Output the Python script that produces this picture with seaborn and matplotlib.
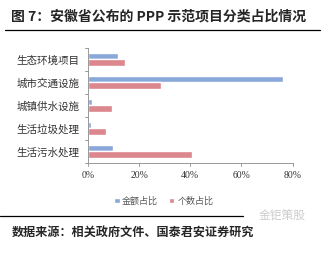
import numpy as np
import pandas as pd
import matplotlib
matplotlib.use("Agg")
import matplotlib.pyplot as plt
import seaborn as sns

sns.set_theme(style="white")
plt.rcParams['font.family'] = ['Noto Sans CJK SC', 'DejaVu Sans']

categories = ["生态环境项目", "城市交通设施", "城镇供水设施", "生活垃圾处理", "生活污水处理"]
amount_share = [11.6, 76.3, 1.6, 1.2, 9.7]   # 金额占比 (%)
count_share = [14.5, 28.6, 9.4, 7.1, 40.6]   # 个数占比 (%)
series_names = ["金额占比", "个数占比"]
xticks = [0, 20, 40, 60, 80]

df = pd.DataFrame({
    "cat": categories * 2,
    "val": amount_share + count_share,
    "series": [series_names[0]] * 5 + [series_names[1]] * 5,
})

fig = plt.figure(figsize=(3.28, 2.59), dpi=100)
ax = fig.add_axes([0.268, 0.371, 0.624, 0.445])

sns.barplot(data=df, y="cat", x="val", hue="series", order=categories,
            hue_order=series_names, palette=["#8AA7D9", "#DC868D"],
            width=0.55, orient="h", ax=ax, saturation=1)

ax.set_xlim(0, 80)
ax.set_ylim(4.5, -0.5)
ax.set_xticks(xticks)
ax.set_xticklabels([f"{t}%" for t in xticks], fontsize=7, color="#333333",
                   family=["Liberation Serif", "Noto Sans CJK SC"])
ax.set_yticks(range(len(categories)))
ax.set_yticklabels(categories, fontsize=7.6, color="#333333")
ax.set_xlabel("")
ax.set_ylabel("")
for s in ["top", "right"]:
    ax.spines[s].set_visible(False)
for s in ["left", "bottom"]:
    ax.spines[s].set_color("#999999")
    ax.spines[s].set_linewidth(0.7)
ax.tick_params(axis="y", length=0, pad=6)
ax.tick_params(axis="x", length=0, pad=6)
# small tick marks between categories and at x ticks
for b in np.arange(-0.5, 5, 1):
    ax.plot([-1.3, 0], [b, b], color="#999999", lw=0.7, clip_on=False)
for t in xticks:
    ax.plot([t, t], [4.5, 4.62], color="#999999", lw=0.7, clip_on=False)

ax.legend(loc="upper center", bbox_to_anchor=(0.37, -0.22), ncol=2, frameon=False,
          fontsize=6.5, handlelength=0.6, handleheight=0.6, columnspacing=1.2,
          handletextpad=0.3, labelcolor="#555555")

fig.text(0.035, 0.935, "图 7：安徽省公布的 PPP 示范项目分类占比情况", fontsize=10,
         fontweight="bold", va="center", ha="left")
fig.add_artist(plt.Line2D([0.015, 0.975], [0.885, 0.885], color="black", lw=0.9))
fig.add_artist(plt.Line2D([0.0, 0.74], [0.165, 0.165], color="black", lw=0.9))
fig.text(0.035, 0.10, "数据来源：相关政府文件、国泰君安证券研究", fontsize=8.7,
         fontweight="bold", va="center", ha="left")
fig.text(0.79, 0.165, "金钜策股", fontsize=8.5, color="#CCCCCC", va="center", ha="left")

fig.savefig("out.png", dpi=100)
